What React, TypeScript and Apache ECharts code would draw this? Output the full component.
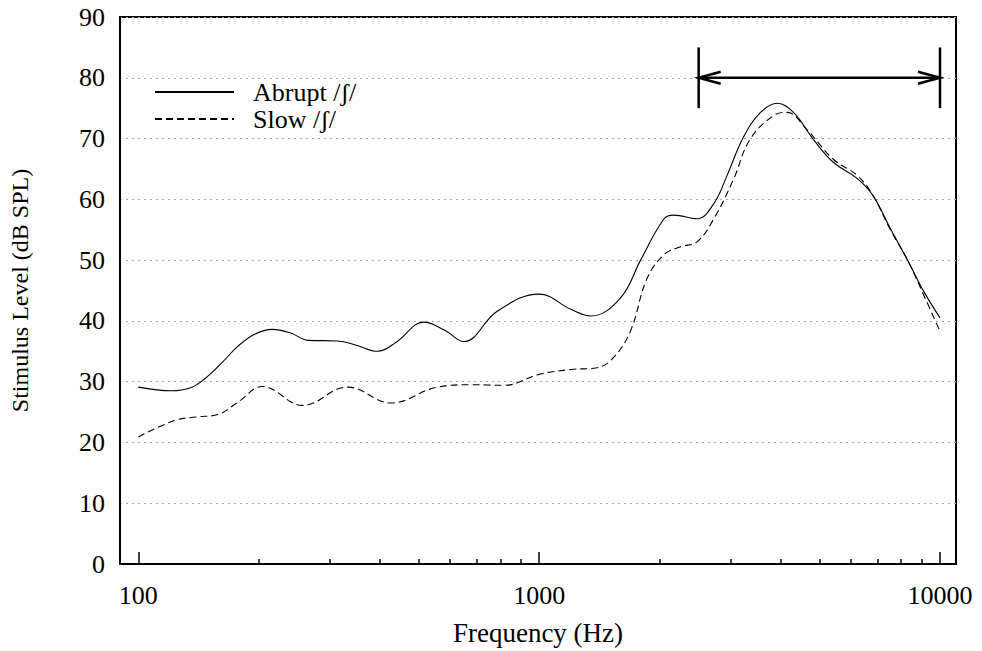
import React, { useEffect, useRef } from "react";
import * as echarts from "echarts";

const FONT = '"Liberation Serif", "Times New Roman", serif';

const abruptFreq = [100, 121, 135, 146, 161, 177, 195, 216, 240, 265, 314, 350, 395, 440, 516, 580, 649, 786, 1000, 1200, 1347, 1596, 1791, 2049, 2166, 2476, 2727, 2942, 3232, 3567, 3929, 4309, 4826, 5417, 6220, 6808, 7519, 8300, 9100, 10000];
const abruptLevel = [29.1, 28.5, 29.0, 30.4, 33.0, 35.8, 37.8, 38.6, 38.0, 36.8, 36.7, 36.0, 35.0, 36.5, 39.8, 38.5, 36.6, 41.6, 44.4, 41.9, 40.8, 43.8, 50.0, 56.8, 57.4, 56.8, 59.3, 63.9, 70.2, 74.3, 75.8, 74.3, 69.9, 66.1, 63.4, 60.6, 55.2, 50.0, 44.9, 40.5];

const slowFreq = [100, 123, 140, 158, 177, 204, 257, 333, 427, 557, 675, 818, 1000, 1200, 1395, 1534, 1689, 1859, 2049, 2254, 2476, 2727, 3054, 3360, 3850, 4154, 4650, 5417, 6220, 6808, 7519, 8300, 9100, 10000];
const slowLevel = [20.9, 23.6, 24.2, 24.6, 26.6, 29.2, 26.1, 29.1, 26.5, 29.1, 29.5, 29.4, 31.2, 32.0, 32.3, 34.0, 38.3, 47.0, 50.9, 52.2, 53.0, 56.8, 63.3, 69.9, 73.8, 74.3, 71.5, 66.6, 63.9, 60.6, 55.0, 50.0, 44.3, 38.3];

const majorTicks = [100, 1000, 10000];
const minorTicks = [200, 300, 400, 500, 600, 700, 800, 900, 2000, 3000, 4000, 5000, 6000, 7000, 8000, 9000];

// range annotation: from, to, level, bar low, bar high
const rangeMarker = [[2500, 10000, 80, 75, 85]];

const seriesNames = ["Abrupt /ʃ/", "Slow /ʃ/"];

const X_MIN = 90;
const X_MAX = 10963;

export default function App() {
  const ref = useRef<HTMLDivElement>(null);
  useEffect(() => {
    if (!ref.current) return;
    const chart = echarts.init(ref.current, null, { renderer: "svg" });
    const baseText = { fontFamily: FONT, color: "#000" };
    chart.setOption({
      animation: false,
      backgroundColor: "#fff",
      grid: {
        left: 119,
        right: 26,
        top: 17,
        bottom: 85,
        show: true,
        borderColor: "#000",
        borderWidth: 2,
        backgroundColor: "transparent",
      },
      legend: {
        data: seriesNames,
        orient: "vertical",
        left: 149,
        top: 74,
        itemWidth: 79,
        itemHeight: 14,
        itemGap: 1,
        itemStyle: { opacity: 0 },
        textStyle: { ...baseText, fontSize: 26, padding: [0, 0, 0, 14] },
      },
      xAxis: [
        {
          type: "log",
          logBase: 10,
          min: X_MIN,
          max: X_MAX,
          name: "Frequency (Hz)",
          nameLocation: "middle",
          nameGap: 55,
          nameTextStyle: { ...baseText, fontSize: 27 },
          axisLine: { show: true, lineStyle: { color: "#000", width: 2 } },
          axisTick: {
            show: true,
            inside: true,
            length: 12,
            customValues: majorTicks,
            lineStyle: { color: "#000", width: 1.5 },
          },
          axisLabel: {
            ...baseText,
            fontSize: 26,
            margin: 18,
            customValues: majorTicks,
            formatter: (v: number) => String(Math.round(v)),
          },
          splitLine: { show: false },
        },
        {
          type: "log",
          logBase: 10,
          min: X_MIN,
          max: X_MAX,
          position: "bottom",
          axisLine: { show: false },
          axisTick: {
            show: true,
            inside: true,
            length: 5,
            customValues: minorTicks,
            lineStyle: { color: "#000", width: 1.5 },
          },
          axisLabel: { show: false },
          splitLine: { show: false },
        },
      ],
      yAxis: {
        type: "value",
        min: 0,
        max: 90,
        interval: 10,
        name: "Stimulus Level (dB SPL)",
        nameLocation: "middle",
        nameGap: 88,
        nameTextStyle: { ...baseText, fontSize: 24 },
        axisLine: { show: true, lineStyle: { color: "#000", width: 2 } },
        axisTick: { show: false },
        axisLabel: { ...baseText, fontSize: 26, margin: 15 },
        splitLine: { show: true, lineStyle: { color: "#aaa", width: 1, type: [2, 4] } },
      },
      series: [
        {
          name: seriesNames[0],
          type: "line",
          xAxisIndex: 0,
          data: abruptFreq.map((f, i) => [f, abruptLevel[i]]),
          showSymbol: false,
          symbol: "none",
          smooth: 0.4,
          lineStyle: { color: "#000", width: 1.1 },
          itemStyle: { color: "#000" },
        },
        {
          name: seriesNames[1],
          type: "line",
          xAxisIndex: 0,
          data: slowFreq.map((f, i) => [f, slowLevel[i]]),
          showSymbol: false,
          symbol: "none",
          smooth: 0.4,
          lineStyle: { color: "#000", width: 1.1, type: [7, 4] },
          itemStyle: { color: "#000" },
        },
        {
          type: "custom",
          xAxisIndex: 0,
          data: rangeMarker,
          clip: false,
          silent: true,
          renderItem: (params: any, api: any) => {
            const a = api.coord([api.value(0), api.value(2)]);
            const b = api.coord([api.value(1), api.value(2)]);
            const lo = api.coord([api.value(0), api.value(3)]);
            const hi = api.coord([api.value(0), api.value(4)]);
            const style = { stroke: "#000", lineWidth: 2.5, fill: "none" };
            return {
              type: "group",
              children: [
                { type: "line", shape: { x1: a[0], y1: lo[1], x2: a[0], y2: hi[1] }, style },
                { type: "line", shape: { x1: b[0], y1: lo[1], x2: b[0], y2: hi[1] }, style },
                { type: "line", shape: { x1: a[0], y1: a[1], x2: b[0], y2: b[1] }, style },
                { type: "polyline", shape: { points: [[a[0] + 22, a[1] - 6], [a[0], a[1]], [a[0] + 22, a[1] + 6]] }, style },
                { type: "polyline", shape: { points: [[b[0] - 22, b[1] - 6], [b[0], b[1]], [b[0] - 22, b[1] + 6]] }, style },
              ],
            };
          },
        },
      ],
    });
    return () => chart.dispose();
  }, []);
  return (
    <div
      ref={ref}
      style={{ position: "fixed", left: 0, top: 0, width: 982, height: 651, background: "#fff" }}
    />
  );
}
